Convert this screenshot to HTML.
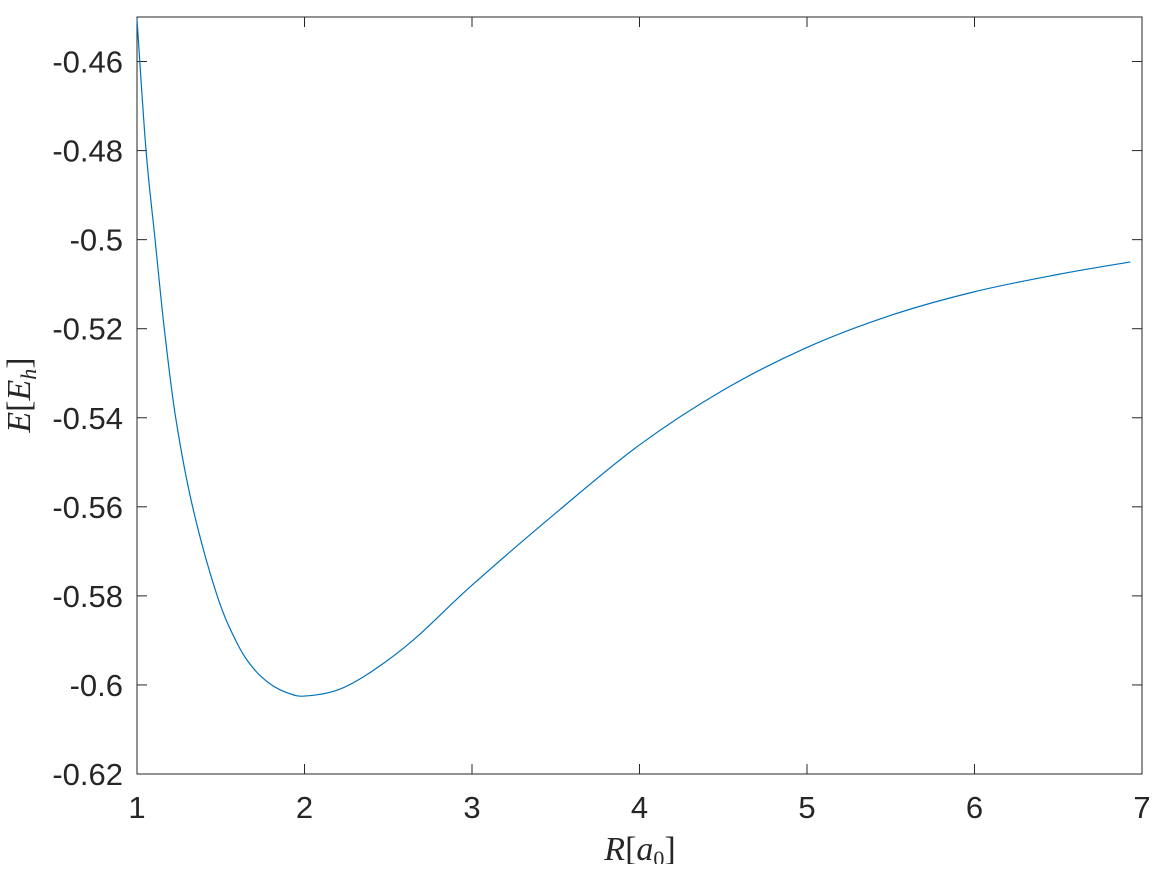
<!DOCTYPE html>
<html><head><meta charset="utf-8"><style>
body{margin:0;background:#fff;overflow:hidden;}
svg text{font-family:"Liberation Sans",sans-serif;font-size:31px;fill:#262626;}
.ax{font-family:"Liberation Serif",serif;font-size:34px;fill:#262626;}
</style></head><body>
<svg id="chart" width="1152" height="864" xmlns="http://www.w3.org/2000/svg">
<rect x="0" y="0" width="1152" height="864" fill="#fff"/>
<g id="g"></g>
</svg>
<script>
const xTicks=[1,2,3,4,5,6,7];
const yTicks=[-0.46,-0.48,-0.5,-0.52,-0.54,-0.56,-0.58,-0.6,-0.62];
const yTickLabels=["-0.46","-0.48","-0.5","-0.52","-0.54","-0.56","-0.58","-0.6","-0.62"];
const rVals=[1,1.054,1.108,1.163,1.231,1.332,1.479,1.6,1.7,1.8,1.9,2.0,2.2,2.4,2.65,3.0,3.5,4.0,4.5,5.0,5.5,6.0,6.5,6.93];
const eVals=[-0.4505,-0.48,-0.5,-0.52,-0.54,-0.56,-0.58,-0.5908,-0.5965,-0.5999,-0.6018,-0.6025,-0.6011,-0.5970,-0.5899,-0.5776,-0.5614,-0.5461,-0.5338,-0.5242,-0.5170,-0.5117,-0.5078,-0.5050];
const L=137,R=1142,T=17,B=774;
const xMin=1,xMax=7,yMin=-0.62,yMax=-0.45;
const sx=v=>L+(v-xMin)/(xMax-xMin)*(R-L);
const sy=v=>B-(v-yMin)/(yMax-yMin)*(B-T);
const g=document.getElementById('g');
const NS='http://www.w3.org/2000/svg';
function mk(t,a){const e=document.createElementNS(NS,t);for(const k in a)e.setAttribute(k,a[k]);g.appendChild(e);return e;}
const box=mk('rect',{x:L,y:T,width:R-L,height:B-T,fill:'none',stroke:'#262626','stroke-width':1});


xTicks.forEach(v=>{
 const x=sx(v);
 mk('line',{x1:x,y1:B,x2:x,y2:B-10,stroke:'#262626'});
 mk('line',{x1:x,y1:T,x2:x,y2:T+10,stroke:'#262626'});
 const t=mk('text',{x:x,y:818,'text-anchor':'middle'});t.textContent=v;
 
 
});
yTicks.forEach((v,i)=>{
 const y=sy(v);
 mk('line',{x1:L,y1:y,x2:L+10,y2:y,stroke:'#262626'});
 mk('line',{x1:R,y1:y,x2:R-10,y2:y,stroke:'#262626'});
 const t=mk('text',{x:123,y:y+11,'text-anchor':'end'});t.textContent=yTickLabels[i];
 
 
});
const P=rVals.map((r,i)=>[sx(r),sy(eVals[i])]);
let d='M'+P[0][0]+','+P[0][1];
for(let i=0;i<P.length-1;i++){
 const p0=P[Math.max(0,i-1)],p1=P[i],p2=P[i+1],p3=P[Math.min(P.length-1,i+2)];
 const c1=[p1[0]+(p2[0]-p0[0])/6,p1[1]+(p2[1]-p0[1])/6];
 const c2=[p2[0]-(p3[0]-p1[0])/6,p2[1]-(p3[1]-p1[1])/6];
 d+=` C${c1[0]},${c1[1]} ${c2[0]},${c2[1]} ${p2[0]},${p2[1]}`;
}
const path=mk('path',{d:d,fill:'none',stroke:'#0072BD','stroke-width':1.2});


const xt=mk('text',{x:640,y:860,'text-anchor':'middle',class:'ax'});
xt.innerHTML='<tspan font-style="italic">R</tspan>[<tspan font-style="italic">a</tspan><tspan font-size="22" dy="6">0</tspan><tspan dy="-6">]</tspan>';


const yt=mk('text',{x:0,y:0,'text-anchor':'middle',class:'ax',transform:'translate(30,395) rotate(-90)'});
yt.innerHTML='<tspan font-style="italic">E</tspan>[<tspan font-style="italic">E</tspan><tspan font-size="22" font-style="italic" dy="6">h</tspan><tspan dy="-6">]</tspan>';


</script>
</body></html>
